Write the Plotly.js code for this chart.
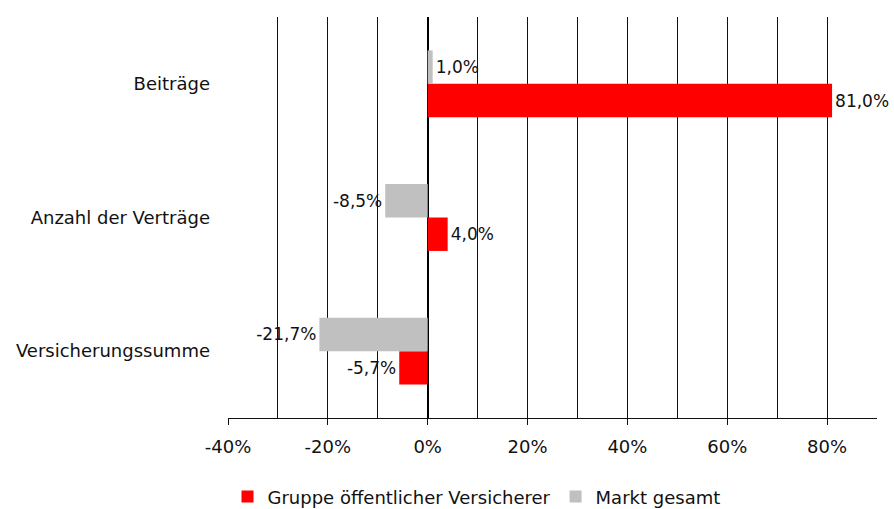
<!DOCTYPE html>
<html>
<head>
<meta charset="utf-8">
<script src="https://cdn.plot.ly/plotly-3.0.1.min.js"></script>
<style>
  body { margin: 0; background: #fff; }
  #chart { width: 894px; height: 509px; }
</style>
</head>
<body>
<div id="chart"></div>
<script>
  // categories bottom to top
  var kategorien = ['Versicherungssumme', 'Anzahl der Verträge', 'Beiträge'];
  var gruppeWerte = [-5.7, 4.0, 81.0];
  var marktWerte = [-21.7, -8.5, 1.0];
  var tickWerte = [-40, -20, 0, 20, 40, 60, 80];
  var tickTexte = ['-40%', '-20%', '0%', '20%', '40%', '60%', '80%'];

  var trace1 = {
    y: kategorien,
    x: gruppeWerte,
    name: 'Gruppe öffentlicher Versicherer',
    type: 'bar',
    orientation: 'h',
    marker: { color: '#ff0000' },
    texttemplate: '%{x:.1f}%',
    textposition: 'outside',
    constraintext: 'none',
    cliponaxis: false,
    textfont: { size: 17, color: '#111' },
    hoverinfo: 'x+name'
  };

  var trace2 = {
    y: kategorien,
    x: marktWerte,
    name: 'Markt gesamt',
    type: 'bar',
    orientation: 'h',
    marker: { color: '#c0c0c0' },
    texttemplate: '%{x:.1f}%',
    textposition: 'outside',
    constraintext: 'none',
    cliponaxis: false,
    textfont: { size: 17, color: '#111' },
    hoverinfo: 'x+name'
  };

  var data = [trace1, trace2];
  var layout = {
    width: 894,
    height: 509,
    barmode: 'group',
    bargap: 0.5,
    bargroupgap: 0,
    separators: ',.',
    font: { family: 'DejaVu Sans, sans-serif', size: 18, color: '#111' },
    margin: { l: 228, r: 17, t: 17, b: 91 },
    paper_bgcolor: '#fff',
    plot_bgcolor: '#fff',
    showlegend: true,
    legend: {
      orientation: 'h',
      xref: 'container',
      yref: 'container',
      x: 0.533,
      xanchor: 'center',
      y: 0.024,
      yanchor: 'middle',
      font: { size: 18 },
      itemwidth: 30,
      tracegroupgap: 0
    },
    xaxis: {
      range: [-40, 90],
      tickvals: tickWerte,
      ticktext: tickTexte,
      ticks: 'outside',
      ticklen: 6,
      tickcolor: '#111',
      ticklabelstandoff: 6,
      showgrid: true,
      gridcolor: '#111',
      gridwidth: 1,
      minor: { dtick: 10, tick0: 0, showgrid: true, gridcolor: '#111', gridwidth: 1, ticks: '' },
      zeroline: true,
      zerolinecolor: '#000',
      zerolinewidth: 2,
      showline: true,
      linecolor: '#111',
      linewidth: 1,
      fixedrange: true
    },
    yaxis: {
      ticks: '',
      showgrid: false,
      showline: false,
      ticklabelstandoff: 17,
      fixedrange: true
    }
  };
  var config = { responsive: false, displayModeBar: false };
  Plotly.newPlot('chart', data, layout, config);
</script>
</body>
</html>
